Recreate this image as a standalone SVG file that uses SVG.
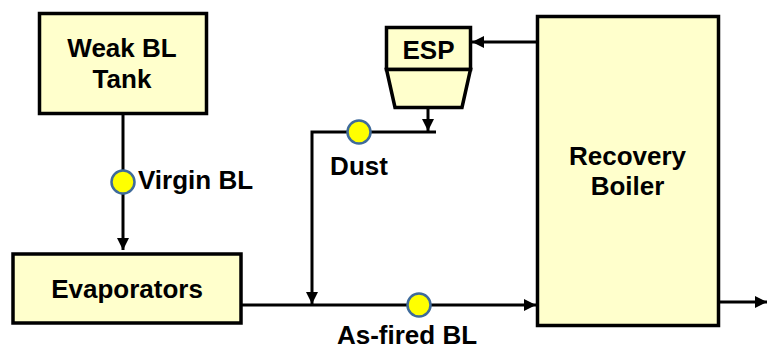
<svg xmlns="http://www.w3.org/2000/svg" width="767" height="351" viewBox="0 0 767 351">
<style>
.box{fill:#FFFFCC;stroke:#000;stroke-width:3.5}
.ln{fill:none;stroke:#000;stroke-width:3}
.pt{fill:#FFFF00;stroke:#3F6B9B;stroke-width:2.5}
text{font-family:"Liberation Sans",Arial,sans-serif;font-weight:bold;fill:#000;font-size:26px}
</style>
<defs>
<marker id="ah" viewBox="0 0 10 10" refX="10" refY="5" markerWidth="4" markerHeight="4" orient="auto" markerUnits="strokeWidth">
<path d="M0,0 L10,5 L0,10 z" fill="#000"/>
</marker>
</defs>
<rect width="767" height="351" fill="#fff"/>
<g id="connectors">
<line class="ln" x1="123" y1="114" x2="123" y2="250" marker-end="url(#ah)"/>
<line class="ln" x1="241" y1="305" x2="536" y2="305" marker-end="url(#ah)"/>
<line class="ln" x1="719" y1="302" x2="767" y2="302" marker-end="url(#ah)"/>
<line class="ln" x1="537" y1="42" x2="472" y2="42" marker-end="url(#ah)"/>
<line class="ln" x1="428" y1="108" x2="428" y2="131" marker-end="url(#ah)"/>
<polyline class="ln" points="436,132 312,132 312,304" marker-end="url(#ah)"/>
<circle class="pt" cx="123" cy="182" r="11.5"/>
<circle class="pt" cx="359" cy="132" r="11.5"/>
<circle class="pt" cx="419" cy="305" r="11.5"/>
<text x="138" y="189">Virgin BL</text>
<text x="359" y="175" text-anchor="middle">Dust</text>
<text x="407" y="344" text-anchor="middle">As-fired BL</text>
</g>
<g id="tank">
<rect class="box" x="39.5" y="13.5" width="167" height="100"/>
<text x="122" y="57" text-anchor="middle">Weak BL</text>
<text x="122" y="88" text-anchor="middle">Tank</text>
</g>
<g id="evaporators">
<rect class="box" x="13" y="254" width="228" height="69"/>
<text x="127" y="298" text-anchor="middle">Evaporators</text>
</g>
<g id="esp">
<rect class="box" x="386.5" y="27.5" width="84" height="42"/>
<polygon class="box" points="386.5,69.5 470.5,69.5 462,107.5 395,107.5"/>
<text x="428.5" y="59" text-anchor="middle">ESP</text>
</g>
<g id="boiler">
<rect class="box" x="537.5" y="16.5" width="181" height="309"/>
<text x="627.5" y="165" text-anchor="middle">Recovery</text>
<text x="627.5" y="195" text-anchor="middle">Boiler</text>
</g>
</svg>
